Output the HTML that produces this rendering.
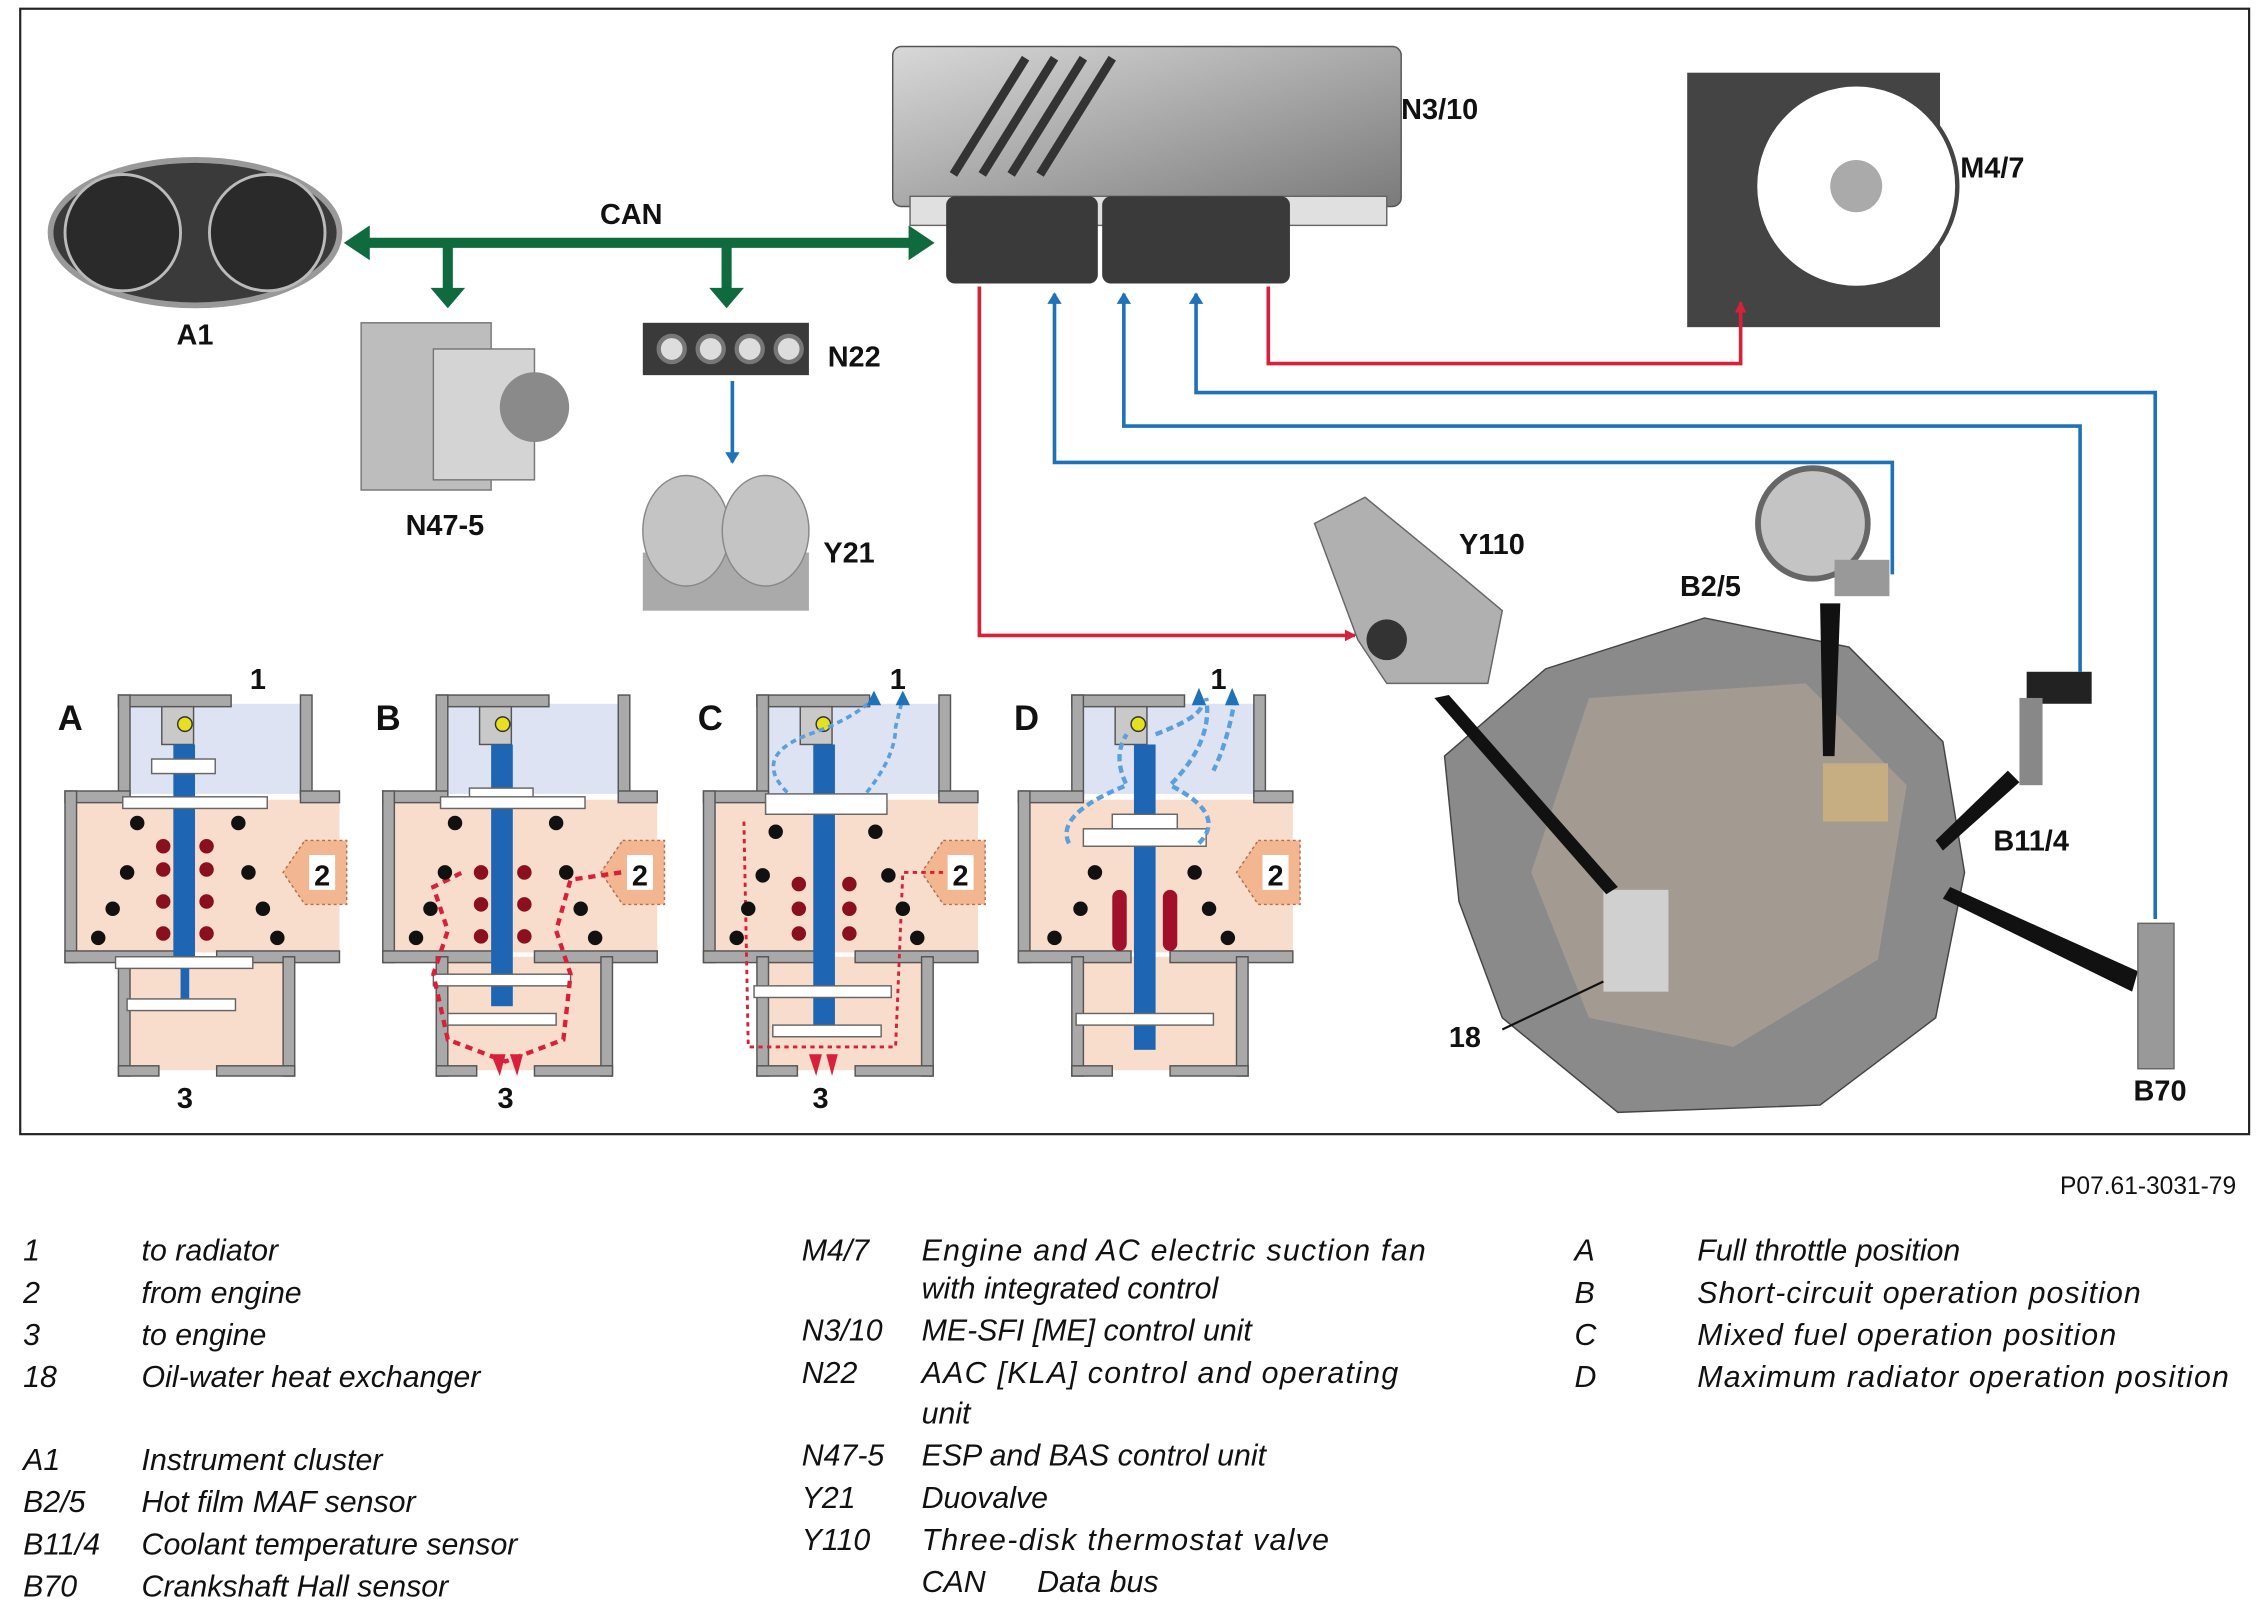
<!DOCTYPE html>
<html><head><meta charset="utf-8"><style>
html,body{margin:0;padding:0;background:#fff;}
svg{display:block}
.lg{font-family:"Liberation Sans",sans-serif;font-style:italic;font-size:21px;fill:#111}
.lb{font-family:"Liberation Sans",sans-serif;font-weight:bold;font-size:20px;fill:#111}
</style></head><body>
<svg width="2265" height="1614" viewBox="0 0 1568 1110" preserveAspectRatio="none" xmlns="http://www.w3.org/2000/svg">
<defs>
<marker id="ar" markerWidth="8" markerHeight="8" refX="7" refY="4" orient="auto" markerUnits="userSpaceOnUse"><path d="M0,0 L8,4 L0,8z" fill="#d8203a"/></marker>
<marker id="ab" markerWidth="8" markerHeight="10" refX="7" refY="5" orient="auto" markerUnits="userSpaceOnUse"><path d="M0,0 L8,5 L0,10z" fill="#1e72b8"/></marker>
<linearGradient id="gm" x1="0" y1="0" x2="1" y2="1"><stop offset="0" stop-color="#d8d8d8"/><stop offset="1" stop-color="#7a7a7a"/></linearGradient>
<g id="valve">
 <rect x="90" y="484" width="120" height="62" fill="#dde3f3"/>
 <rect x="50" y="550" width="185" height="105" fill="#f8dccc"/>
 <rect x="88" y="658" width="108" height="78" fill="#f8dccc"/>
 <g fill="#a9a9a9" stroke="#555" stroke-width="1">
  <rect x="82" y="478" width="78" height="8"/><rect x="82" y="478" width="8" height="70"/><rect x="208" y="478" width="8" height="70"/>
  <rect x="45" y="544" width="45" height="8"/><rect x="208" y="544" width="27" height="8"/>
  <rect x="45" y="544" width="8" height="118"/>
  <rect x="45" y="654" width="78" height="8"/><rect x="150" y="654" width="85" height="8"/>
  <rect x="82" y="658" width="8" height="82"/><rect x="196" y="658" width="8" height="82"/>
  <rect x="82" y="733" width="28" height="7"/><rect x="150" y="733" width="54" height="7"/>
 </g>
 <rect x="112" y="486" width="22" height="26" fill="#c9c9c9" stroke="#555"/>
 <circle cx="128" cy="498" r="5" fill="#e6e020" stroke="#333"/>
 <path d="M211,578 L240,578 L240,622 L211,622 L196,600z" fill="#f2b690" stroke="#b07050" stroke-dasharray="2,2"/>
 <rect x="214" y="588" width="18" height="24" fill="#fff"/>
 <text x="223" y="609" class="lb" text-anchor="middle">2</text>
</g>
</defs>
<rect x="14" y="6" width="1543" height="774" fill="#fff" stroke="#222" stroke-width="1.5"/>

<!-- A1 -->
<ellipse cx="135" cy="160" rx="100" ry="50" fill="#3a3a3a" stroke="#999" stroke-width="4"/>
<circle cx="85" cy="160" r="40" fill="#2a2a2a" stroke="#bbb" stroke-width="2"/><circle cx="185" cy="160" r="40" fill="#2a2a2a" stroke="#bbb" stroke-width="2"/>
<text x="135" y="237" class="lb" text-anchor="middle">A1</text>
<!-- N47-5 -->
<rect x="250" y="222" width="90" height="115" fill="#bdbdbd" stroke="#777"/>
<rect x="300" y="240" width="70" height="90" fill="#d4d4d4" stroke="#777"/>
<circle cx="370" cy="280" r="24" fill="#8a8a8a"/>
<text x="308" y="368" class="lb" text-anchor="middle">N47-5</text>
<!-- N22 -->
<rect x="445" y="222" width="115" height="36" fill="#3a3a3a"/>
<g fill="#ddd" stroke="#777" stroke-width="3"><circle cx="465" cy="240" r="9"/><circle cx="492" cy="240" r="9"/><circle cx="519" cy="240" r="9"/><circle cx="546" cy="240" r="9"/></g>
<text x="573" y="252" class="lb">N22</text>
<line x1="507" y1="262" x2="507" y2="318" stroke="#1e72b8" stroke-width="2.5" marker-end="url(#ab)"/>
<!-- Y21 -->
<rect x="445" y="380" width="115" height="40" fill="#aaa"/>
<ellipse cx="475" cy="365" rx="30" ry="38" fill="#c4c4c4" stroke="#888"/><ellipse cx="530" cy="365" rx="30" ry="38" fill="#c4c4c4" stroke="#888"/>
<text x="570" y="387" class="lb">Y21</text>
<!-- CAN -->
<g stroke="#0f6a3e" stroke-width="7" fill="none">
<line x1="252" y1="167" x2="633" y2="167"/><line x1="310" y1="167" x2="310" y2="200"/><line x1="503" y1="167" x2="503" y2="200"/>
</g>
<g fill="#0f6a3e"><path d="M238,167 L256,155 L256,179z"/><path d="M647,167 L629,155 L629,179z"/><path d="M298,198 L322,198 L310,212z"/><path d="M491,198 L515,198 L503,212z"/></g>
<text x="437" y="154" class="lb" text-anchor="middle">CAN</text>
<!-- ECU -->
<rect x="618" y="32" width="352" height="110" rx="6" fill="url(#gm)" stroke="#555"/>
<g stroke="#333" stroke-width="6"><line x1="660" y1="120" x2="710" y2="40"/><line x1="680" y1="120" x2="730" y2="40"/><line x1="700" y1="120" x2="750" y2="40"/><line x1="720" y1="120" x2="770" y2="40"/></g>
<rect x="630" y="135" width="330" height="20" fill="#e0e0e0" stroke="#666"/>
<rect x="655" y="135" width="105" height="60" rx="6" fill="#3a3a3a"/><rect x="763" y="135" width="130" height="60" rx="6" fill="#3a3a3a"/>
<text x="970" y="82" class="lb">N3/10</text>
<!-- Fan -->
<rect x="1168" y="50" width="175" height="175" fill="#444"/>
<circle cx="1285" cy="128" r="70" fill="#fff" stroke="#444" stroke-width="3"/>
<circle cx="1285" cy="128" r="18" fill="#aaa"/>
<text x="1357" y="122" class="lb">M4/7</text>
<!-- red lines -->
<polyline points="678,197 678,437 938,437" fill="none" stroke="#d8203a" stroke-width="2.5" marker-end="url(#ar)"/>
<polyline points="878,197 878,250 1205,250 1205,208" fill="none" stroke="#d8203a" stroke-width="2.5" marker-end="url(#ar)"/>
<!-- blue lines -->
<polyline points="1310,395 1310,318 730,318 730,202" fill="none" stroke="#1e72b8" stroke-width="2.5" marker-end="url(#ab)"/>
<polyline points="1440,462 1440,293 778,293 778,202" fill="none" stroke="#1e72b8" stroke-width="2.5" marker-end="url(#ab)"/>
<polyline points="1492,632 1492,270 828,270 828,202" fill="none" stroke="#1e72b8" stroke-width="2.5" marker-end="url(#ab)"/>
<!-- Y110 -->
<path d="M910,360 L945,342 L1010,395 L1040,420 L1030,470 L960,470 L940,440z" fill="#b0b0b0" stroke="#666"/>
<circle cx="960" cy="440" r="14" fill="#333"/>
<text x="1010" y="381" class="lb">Y110</text>
<!-- B2/5 -->
<circle cx="1255" cy="360" r="38" fill="#c4c4c4" stroke="#666" stroke-width="4"/>
<rect x="1270" y="385" width="38" height="25" fill="#999"/>
<text x="1163" y="410" class="lb">B2/5</text>
<!-- engine -->
<path d="M1000,520 L1070,460 L1180,425 L1280,445 L1345,510 L1360,600 L1340,700 L1260,760 L1120,765 L1040,700 L1010,620z" fill="#8a8a8a" stroke="#444"/>
<path d="M1100,480 L1250,470 L1320,540 L1300,660 L1200,720 L1100,700 L1060,600z" fill="#a39b92"/>
<rect x="1110" y="612" width="45" height="70" fill="#d0d0d0"/>
<rect x="1262" y="525" width="45" height="40" fill="#c7ae82"/>
<g fill="#111"><path d="M993,480 L1003,478 L1120,610 L1112,615z"/><path d="M1260,415 L1274,415 L1270,520 L1262,520z"/><path d="M1390,530 L1398,538 L1345,585 L1340,578z"/><path d="M1350,610 L1480,668 L1476,682 L1345,618z"/></g>
<line x1="1040" y1="708" x2="1110" y2="675" stroke="#111" stroke-width="1.5"/>
<text x="1003" y="720" class="lb">18</text>
<!-- B11/4 -->
<rect x="1403" y="462" width="45" height="22" fill="#222"/><rect x="1398" y="480" width="16" height="60" fill="#888"/>
<text x="1380" y="585" class="lb">B11/4</text>
<!-- B70 -->
<rect x="1480" y="635" width="25" height="100" fill="#999" stroke="#666"/>
<text x="1477" y="757" class="lb">B70</text>

<!-- valves -->
<use href="#valve"/>
<use href="#valve" transform="translate(220,0)"/>
<use href="#valve" transform="translate(442,0)"/>
<use href="#valve" transform="translate(660,0)"/>
<!-- A internals -->
<g>
<rect x="120" y="512" width="15" height="150" fill="#1e66b4"/><rect x="105" y="522" width="44" height="10" fill="#fff" stroke="#666"/>
<rect x="85" y="548" width="100" height="8" fill="#fff" stroke="#666"/>
<rect x="80" y="658" width="95" height="8" fill="#fff" stroke="#666"/><rect x="125" y="666" width="6" height="22" fill="#1e66b4"/><rect x="88" y="687" width="75" height="8" fill="#fff" stroke="#666"/>
<g fill="#8a1020"><circle cx="113" cy="598" r="5"/><circle cx="143" cy="598" r="5"/><circle cx="113" cy="620" r="5"/><circle cx="143" cy="620" r="5"/><circle cx="113" cy="642" r="5"/><circle cx="143" cy="642" r="5"/><circle cx="113" cy="582" r="5"/><circle cx="143" cy="582" r="5"/></g>
<g fill="#111"><circle cx="95" cy="566" r="5"/><circle cx="165" cy="566" r="5"/><circle cx="88" cy="600" r="5"/><circle cx="172" cy="600" r="5"/><circle cx="78" cy="625" r="5"/><circle cx="182" cy="625" r="5"/><circle cx="68" cy="645" r="5"/><circle cx="192" cy="645" r="5"/></g>
</g>
<!-- B internals -->
<g>
<rect x="340" y="512" width="15" height="180" fill="#1e66b4"/><rect x="325" y="542" width="44" height="10" fill="#fff" stroke="#666"/>
<rect x="305" y="548" width="100" height="8" fill="#fff" stroke="#666"/>
<rect x="300" y="670" width="95" height="8" fill="#fff" stroke="#666"/><rect x="310" y="697" width="75" height="8" fill="#fff" stroke="#666"/>
<path d="M430,600 L395,605 L385,640 L395,670 L390,715 L350,730 L310,715 L300,670 L310,640 L300,610 L320,600" fill="none" stroke="#d8203a" stroke-width="3" stroke-dasharray="5,4"/>
<g fill="#8a1020"><circle cx="333" cy="600" r="5"/><circle cx="363" cy="600" r="5"/><circle cx="333" cy="622" r="5"/><circle cx="363" cy="622" r="5"/><circle cx="333" cy="644" r="5"/><circle cx="363" cy="644" r="5"/></g>
<g fill="#111"><circle cx="315" cy="566" r="5"/><circle cx="385" cy="566" r="5"/><circle cx="308" cy="600" r="5"/><circle cx="392" cy="600" r="5"/><circle cx="298" cy="625" r="5"/><circle cx="402" cy="625" r="5"/><circle cx="288" cy="645" r="5"/><circle cx="412" cy="645" r="5"/></g>
<path d="M340,725 L346,740 L350,725z M353,725 L358,740 L362,725z" fill="#d8203a"/>
</g>
<!-- C internals -->
<g>
<rect x="563" y="512" width="15" height="195" fill="#1e66b4"/>
<rect x="530" y="546" width="84" height="14" fill="#fff" stroke="#666"/>
<rect x="522" y="678" width="95" height="8" fill="#fff" stroke="#666"/><rect x="535" y="705" width="75" height="8" fill="#fff" stroke="#666"/>
<path d="M545,545 Q520,520 560,505 Q590,495 605,480 M600,545 Q620,520 620,500 L625,480" fill="none" stroke="#5aa0dc" stroke-width="2.5" stroke-dasharray="4,3"/>
<path d="M600,485 L605,475 L610,485z M620,485 L625,475 L630,485z" fill="#1e72b8"/>
<path d="M515,565 L518,720 L620,720 L625,600 L655,600" fill="none" stroke="#d8203a" stroke-width="2" stroke-dasharray="3,3"/>
<g fill="#8a1020"><circle cx="553" cy="608" r="5"/><circle cx="588" cy="608" r="5"/><circle cx="553" cy="625" r="5"/><circle cx="588" cy="625" r="5"/><circle cx="553" cy="642" r="5"/><circle cx="588" cy="642" r="5"/></g>
<g fill="#111"><circle cx="537" cy="572" r="5"/><circle cx="606" cy="572" r="5"/><circle cx="528" cy="602" r="5"/><circle cx="615" cy="602" r="5"/><circle cx="518" cy="625" r="5"/><circle cx="625" cy="625" r="5"/><circle cx="510" cy="645" r="5"/><circle cx="635" cy="645" r="5"/></g>
<path d="M560,725 L565,740 L569,725z M572,725 L576,740 L580,725z" fill="#d8203a"/>
</g>
<!-- D internals -->
<g>
<rect x="785" y="512" width="15" height="210" fill="#1e66b4"/>
<rect x="770" y="560" width="45" height="10" fill="#fff" stroke="#666"/>
<rect x="750" y="570" width="85" height="12" fill="#fff" stroke="#666"/>
<rect x="745" y="697" width="95" height="8" fill="#fff" stroke="#666"/>
<path d="M740,580 Q730,560 780,540 Q770,520 780,505 M830,580 Q850,560 810,540 Q840,510 835,480 M800,505 Q840,490 830,480 M855,480 Q850,510 840,530" fill="none" stroke="#5aa0dc" stroke-width="3" stroke-dasharray="5,3"/>
<path d="M825,485 L830,473 L835,485z M848,485 L853,473 L858,485z" fill="#1e72b8"/>
<g fill="#a0102a"><rect x="770" y="612" width="10" height="42" rx="5"/><rect x="805" y="612" width="10" height="42" rx="5"/></g>
<g fill="#111"><circle cx="758" cy="600" r="5"/><circle cx="827" cy="600" r="5"/><circle cx="748" cy="625" r="5"/><circle cx="837" cy="625" r="5"/><circle cx="730" cy="645" r="5"/><circle cx="850" cy="645" r="5"/></g>
</g>
<g class="lb" style="font-size:24px"><text x="40" y="502">A</text><text x="260" y="502">B</text><text x="483" y="502">C</text><text x="702" y="502">D</text></g>
<g class="lb"><text x="173" y="474">1</text><text x="616" y="474">1</text><text x="838" y="474">1</text>
<text x="128" y="762" text-anchor="middle">3</text><text x="350" y="762" text-anchor="middle">3</text><text x="568" y="762" text-anchor="middle">3</text></g>

<text x="1548" y="821" text-anchor="end" style="font-family:'Liberation Sans',sans-serif;font-size:17px;fill:#111">P07.61-3031-79</text>
<g class="lg">
<text x="16" y="867">1</text><text x="98" y="867">to radiator</text>
<text x="16" y="896">2</text><text x="98" y="896">from engine</text>
<text x="16" y="925">3</text><text x="98" y="925">to engine</text>
<text x="16" y="954">18</text><text x="98" y="954">Oil-water heat exchanger</text>
<text x="16" y="1011">A1</text><text x="98" y="1011">Instrument cluster</text>
<text x="16" y="1040">B2/5</text><text x="98" y="1040">Hot film MAF sensor</text>
<text x="16" y="1069">B11/4</text><text x="98" y="1069">Coolant temperature sensor</text>
<text x="16" y="1098">B70</text><text x="98" y="1098">Crankshaft Hall sensor</text>
<text x="555" y="867">M4/7</text><text x="638" y="867" textLength="349">Engine and AC electric suction fan</text>
<text x="638" y="893">with integrated control</text>
<text x="555" y="922">N3/10</text><text x="638" y="922">ME-SFI [ME] control unit</text>
<text x="555" y="951">N22</text><text x="638" y="951" textLength="330">AAC [KLA] control and operating</text>
<text x="638" y="979">unit</text>
<text x="555" y="1008">N47-5</text><text x="638" y="1008">ESP and BAS control unit</text>
<text x="555" y="1037">Y21</text><text x="638" y="1037">Duovalve</text>
<text x="555" y="1066">Y110</text><text x="638" y="1066" textLength="282">Three-disk thermostat valve</text>
<text x="638" y="1095">CAN</text><text x="718" y="1095">Data bus</text>
<text x="1090" y="867">A</text><text x="1175" y="867">Full throttle position</text>
<text x="1090" y="896">B</text><text x="1175" y="896" textLength="307">Short-circuit operation position</text>
<text x="1090" y="925">C</text><text x="1175" y="925" textLength="290">Mixed fuel operation position</text>
<text x="1090" y="954">D</text><text x="1175" y="954" textLength="368">Maximum radiator operation position</text>
</g>
</svg>
</body></html>
